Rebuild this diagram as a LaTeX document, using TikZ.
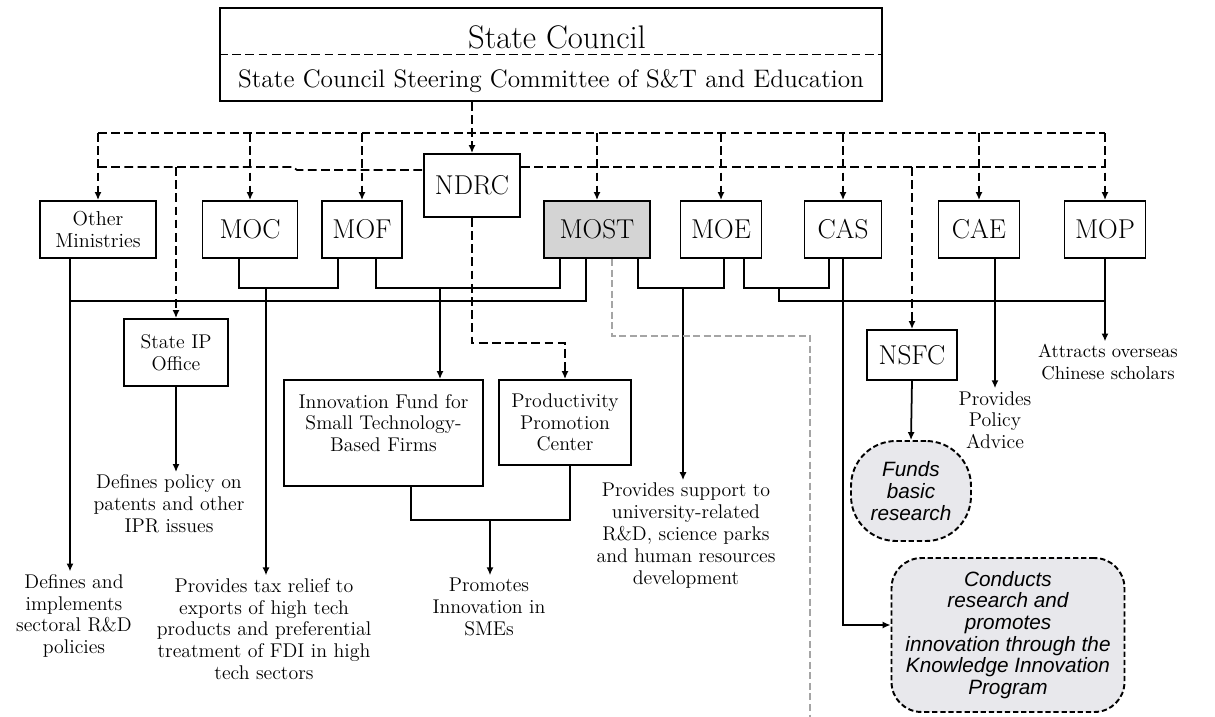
\documentclass[tikz,border=0pt]{standalone}
\usepackage{fontspec}
\newfontfamily\bubblefont{Liberation Sans}
\usetikzlibrary{arrows.meta}
\definecolor{mostgray}{RGB}{212,212,212}
\definecolor{bubblegray}{RGB}{232,232,236}
\definecolor{linegray}{RGB}{165,165,165}

\tikzset{
  box/.style={draw, line width=1.1pt, inner sep=1pt, align=center},
  unit/.style={box, minimum height=1.14cm, font=\fontsize{15.5}{18}\selectfont},
  descbox/.style={box, font=\fontsize{11.3}{12.4}\selectfont},
  desc/.style={align=center, inner sep=1.5pt, font=\fontsize{11.3}{12.4}\selectfont},
  link/.style={line width=1pt},
  dlink/.style={line width=1pt, dash pattern=on 5pt off 2.5pt},
  tip/.style={-{Latex[length=4.5pt,width=4pt]}},
  bubble/.style={draw, line width=1.1pt, dash pattern=on 3pt off 1.6pt, fill=bubblegray, align=center,
    font=\bubblefont\itshape\fontsize{11.8}{12.3}\selectfont},
}

\begin{document}
\begin{tikzpicture}[x=0.02cm, y=-0.02cm]
\useasboundingbox (0,0) rectangle (1215,717);

% State Council
\node[box, minimum width=13.24cm, minimum height=1.86cm] (sc) at (551,54.5) {};
\draw[dlink] (sc.west) -- (sc.east);
\node[font=\fontsize{18.6}{21}\selectfont] (sctitle) at (557,37) {State Council};
\node[font=\fontsize{14.4}{17}\selectfont] (scsub) at (551,81) {State Council Steering Committee of S\&T and Education};

% ministries
\node[unit, minimum width=1.92cm, minimum height=1.26cm] (ndrc) at (472,185.5) {NDRC};
\node[box, minimum width=2.32cm, minimum height=1.14cm, font=\fontsize{11.5}{12.2}\selectfont] (other) at (98,229.5) {Other\\Ministries};
\node[unit, minimum width=1.9cm] (moc) at (250,229.5) {MOC};
\node[unit, minimum width=1.6cm] (mof) at (362,229.5) {MOF};
\node[unit, minimum width=2.12cm, fill=mostgray] (most) at (597,229.5) {MOST};
\node[unit, minimum width=1.62cm] (moe) at (721,229.5) {MOE};
\node[unit, minimum width=1.54cm] (cas) at (843,229.5) {CAS};
\node[unit, minimum width=1.62cm] (cae) at (979,229.5) {CAE};
\node[unit, minimum width=1.62cm] (mop) at (1105,229.5) {MOP};

% agencies
\node[descbox, minimum width=2.08cm, minimum height=1.34cm] (sipo) at (176,352.5) {State IP\\Office};
\node[box, minimum width=3.98cm, minimum height=2.12cm] (ifund) at (383.5,433) {};
\node[desc] (ifundTxt) at (383.5,423) {Innovation Fund for\\Small Technology-\\Based Firms};
\node[descbox, minimum width=2.64cm, minimum height=1.7cm] (ppc) at (565,422.5) {Productivity\\Promotion\\Center};
\node[unit, minimum width=1.8cm, minimum height=1cm] (nsfc) at (912,355) {NSFC};
\node[bubble, rounded corners=0.9cm, minimum width=2.4cm, minimum height=2cm] (fbr) at (911,491) {Funds\\basic\\research};
\node[bubble, rounded corners=0.6cm, minimum width=4.66cm, minimum height=3.08cm] (kip) at (1008,635)
  {Conducts\\research and\\promotes\\innovation through the\\Knowledge Innovation\\Program};

% roles
\node[desc] (omTxt) at (74,616) {Defines and\\implements\\sectoral R\&D\\policies};
\node[desc] (taxTxt) at (264,629) {Provides tax relief to\\exports of high tech\\products and preferential\\treatment of FDI in high\\tech sectors};
\node[desc] (smeTxt) at (489,607) {Promotes\\Innovation in\\SMEs};
\node[desc] (iprTxt) at (169,504) {Defines policy on\\patents and other\\IPR issues};
\node[desc] (supTxt) at (686,535.5) {Provides support to\\university-related\\R\&D, science parks\\and human resources\\development};
\node[desc] (caeTxt) at (995,420) {Provides\\Policy\\Advice};
\node[desc, font=\fontsize{10.6}{12.2}\selectfont] (attTxt) at (1108,362) {Attracts overseas\\Chinese scholars};

% dashed lines of guidance
\coordinate (busU) at (0,133);
\coordinate (busL) at (0,167);
\coordinate (busM) at (0,170);
\coordinate (stepA) at (293,167);
\coordinate (stepB) at (297,170);
\coordinate (ndrcK) at (0,343);
\draw[dlink] (busU -| other) -- (busU -| mop);
\foreach \n in {other,moc,mof,most,moe,cas,cae,mop}
  \draw[dlink,tip] (busU -| \n) -- (\n.north);
\draw[dlink,tip] (sc.south -| ndrc) -- (ndrc.north);
\draw[dlink] (busL -| other) -- (stepA) -- (stepB) -- (ndrc.west |- busM);
\draw[dlink] (ndrc.east |- busL) -- (busL -| mop);
\draw[dlink,tip] (busL -| sipo) -- (sipo.north);
\draw[dlink,tip] (busL -| nsfc) -- (nsfc.north);
\draw[dlink,tip] (ndrc.south) |- (ndrcK -| ppc) -- (ppc.north);

% solid lines
\coordinate (omX) at (70,0);
\coordinate (caeX) at (995,0);
\coordinate (busB) at (586,301);
\coordinate (busR) at (0,301);
\coordinate (brA1) at (239,288);
\coordinate (brA2) at (338,288);
\coordinate (brA) at (266,288);
\coordinate (brB1) at (376,288);
\coordinate (brB2) at (560,288);
\coordinate (brB) at (440,288);
\coordinate (brC1) at (638,288);
\coordinate (brC2) at (724,288);
\coordinate (brC) at (683,288);
\coordinate (brD1) at (744,288);
\coordinate (brD2) at (829,288);
\coordinate (brD) at (779,288);
\coordinate (brE1) at (411,520);
\coordinate (brE2) at (570,520);
\coordinate (brE) at (490,520);

\draw[link,tip] (other.south -| omX) -- (omTxt.north -| omX);
\draw[link] (most.south -| busB) |- (busB -| omX);
\draw[link] (moc.south -| brA1) -- (brA1) -- (brA2) -- (mof.south -| brA2);
\draw[link,tip] (brA) -- (taxTxt.north -| brA);
\draw[link] (mof.south -| brB1) -- (brB1) -- (brB2) -- (most.south -| brB2);
\draw[link,tip] (brB) -- (ifund.north -| brB);
\draw[link] (most.south -| brC1) -- (brC1) -- (brC2) -- (moe.south -| brC2);
\draw[link,tip] (brC) -- (supTxt.north -| brC);
\draw[link] (moe.south -| brD1) -- (brD1) -- (brD2) -- (cas.south -| brD2);
\draw[link] (brD) |- (busR -| mop);
\draw[link,tip] (mop.south) -- (attTxt.north -| mop);
\draw[link,tip] (cae.south -| caeX) -- (caeTxt.north -| caeX);
\draw[link,tip] (cas.south) |- ([yshift=0.2cm]kip.west);
\draw[link,tip] (nsfc.south) -- (fbr.north);
\draw[link,tip] (sipo.south) -- (iprTxt.north -| sipo);
\draw[link] (ifund.south -| brE1) -- (brE1) -- (brE2) -- (ppc.south -| brE2);
\draw[link,tip] (brE) -- (smeTxt.north -| brE);

% MOST supervision line
\coordinate (gK) at (810,336);
\coordinate (gEnd) at (810,717);
\draw[line width=0.8pt, linegray, dash pattern=on 4pt off 2pt] ([xshift=0.3cm]most.south) |- (gK) -- (gEnd);
\end{tikzpicture}
\end{document}
